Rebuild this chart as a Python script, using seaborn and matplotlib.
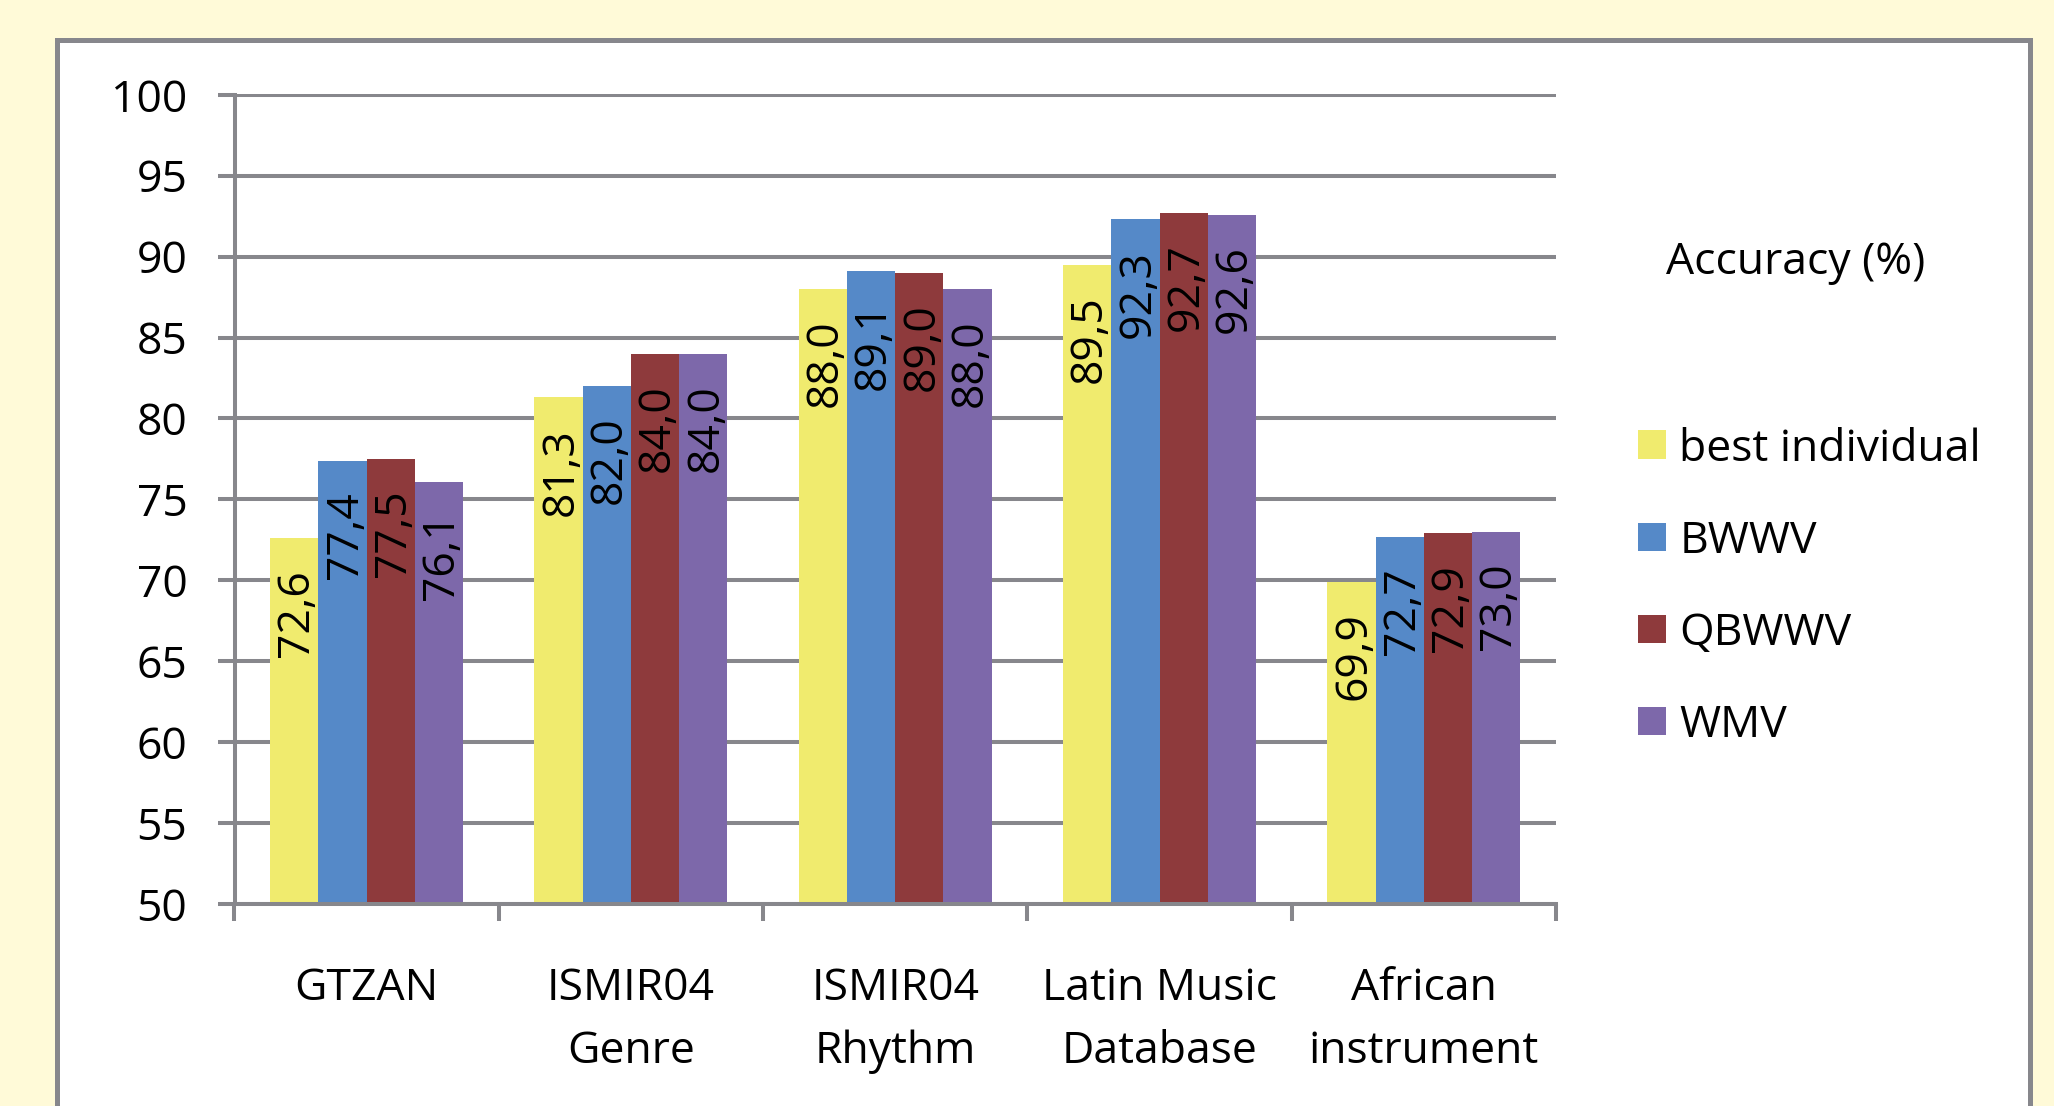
import matplotlib
matplotlib.use("Agg")
import matplotlib.pyplot as plt
from matplotlib.patches import Rectangle, Patch
import pandas as pd
import seaborn as sns

# Classification accuracy (%) per dataset and combination method
datasets = ["GTZAN", "ISMIR04\nGenre", "ISMIR04\nRhythm", "Latin Music\nDatabase", "African\ninstrument"]
methods = ["best individual", "BWWV", "QBWWV", "WMV"]
best_individual = [72.6, 81.3, 88.0, 89.5, 69.9]
bwwv = [77.4, 82.0, 89.1, 92.3, 72.7]
qbwwv = [77.5, 84.0, 89.0, 92.7, 72.9]
wmv = [76.1, 84.0, 88.0, 92.6, 73.0]
y_ticks = [50, 55, 60, 65, 70, 75, 80, 85, 90, 95, 100]
legend_title = "Accuracy (%)"

colors = ["#F0EB6E", "#5589C8", "#8E3A3C", "#7D68AA"]
GRAY = "#87878C"
BG = "#FFFAD8"
FS = 32

series = [best_individual, bwwv, qbwwv, wmv]
df = pd.DataFrame({
    "dataset": [d for s in series for d in datasets],
    "method": [m for m, s in zip(methods, series) for _ in s],
    "accuracy": [v for s in series for v in s],
})

sns.set_theme(style="white")
plt.rcParams["font.family"] = ["Open Sans", "DejaVu Sans"]
plt.rcParams["text.color"] = "black"

W, H = 2054, 1106
fig = plt.figure(figsize=(W / 100, H / 100), dpi=100, facecolor=BG)

# white chart area with grey frame (bottom edge runs off the page)
fig.patches.append(Rectangle((57 / W, -0.05), (2030 - 57) / W, 0.05 + 1 - 40 / H,
                             transform=fig.transFigure, facecolor="white",
                             edgecolor=GRAY, linewidth=3.6, zorder=-5))

ax = fig.add_axes([234.5 / W, 1 - 904 / H, (1556 - 234.5) / W, (904 - 94) / H])
ax.set_facecolor("none")

sns.barplot(data=df, x="dataset", y="accuracy", hue="method", hue_order=methods,
            order=datasets, palette=colors, width=0.73, saturation=1,
            linewidth=0, ax=ax, legend=False, errorbar=None)

ax.set_xlim(-0.5, len(datasets) - 0.5)
ax.set_ylim(50, 100.05)
ax.set_yticks(y_ticks)
ax.set_xlabel("")
ax.set_ylabel("")
ax.set_axisbelow(True)

for side in ["top", "right"]:
    ax.spines[side].set_visible(False)
for side in ["left", "bottom"]:
    ax.spines[side].set_color(GRAY)
    ax.spines[side].set_linewidth(2.9)
ax.spines["left"].set_bounds(50, 100)

ax.yaxis.grid(True, color=GRAY, linewidth=2.9)
ax.xaxis.grid(False)
ax.tick_params(axis="y", left=True, length=12, width=2.9, color=GRAY,
               direction="out", pad=22, labelsize=FS, labelcolor="black")
ax.tick_params(axis="x", which="major", bottom=True, length=0, pad=45,
               labelsize=FS, labelcolor="black")
ax.set_xticks([i - 0.5 for i in range(len(datasets) + 1)], minor=True)
ax.tick_params(axis="x", which="minor", bottom=True, length=12, width=2.9,
               color=GRAY, direction="out")
for lbl in ax.get_xticklabels():
    lbl.set_linespacing(1.56)
    lbl.set_ha("center")

# value labels inside the top of each bar
for container, vals in zip(ax.containers, series):
    for bar, v in zip(container, vals):
        ax.annotate(f"{v:.1f}".replace(".", ","),
                    (bar.get_x() + bar.get_width() / 2, v),
                    xytext=(2, -22), textcoords="offset points",
                    rotation=90, ha="center", va="top", fontsize=FS,
                    color="black")

handles = [Patch(facecolor=c, edgecolor="none", label=m) for c, m in zip(colors, methods)]
fig.legend(handles=handles, loc="upper left", bbox_to_anchor=(1638 / W, 1 - 427 / H),
           frameon=False, fontsize=FS, handlelength=0.62, handleheight=0.62,
           handletextpad=0.31, labelspacing=1.07, borderpad=0, borderaxespad=0)
fig.text(1666 / W, 1 - 263 / H, legend_title, ha="left", va="center", fontsize=FS)

fig.savefig("out.png", dpi=100, facecolor=BG)
